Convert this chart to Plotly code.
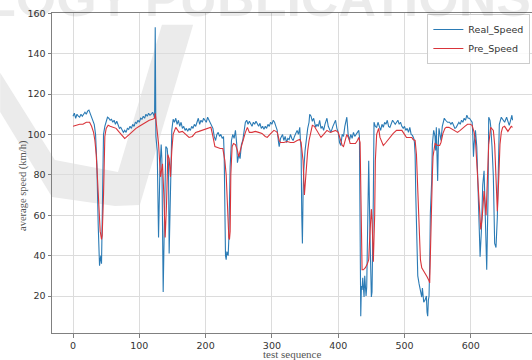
import plotly.graph_objects as go

# ---- data ----
real_x = [0, 2, 4, 6, 8, 10, 12, 14, 16, 18, 20, 22, 24, 26, 28, 30, 32, 34, 36, 38, 39, 40, 41, 42, 43, 44, 45, 46, 48,
          50, 52, 54, 56, 58, 60, 62, 64, 66, 68, 70, 72, 74, 76, 78, 80, 82, 84, 86, 88, 90, 92, 94, 96, 98, 100,
          102, 104, 106, 108, 110, 112, 114, 116, 118, 120, 122, 123, 124, 125, 127, 129, 131, 133, 134, 136, 138,
          140, 142, 144, 145, 147, 149, 151, 153, 155, 157, 159, 161, 163, 165, 167, 169, 171, 173, 175, 177, 179,
          181, 183, 185, 187, 189, 191, 193, 195, 197, 199, 201, 203, 205, 207, 209, 211, 213, 215, 217, 219, 221,
          223, 225, 227, 228, 229, 230, 231, 232, 234, 235, 237, 239, 241, 243, 245, 247, 248, 250, 252, 254, 256,
          258, 260, 262, 264, 266, 268, 270, 272, 274, 276, 278, 280, 282, 284, 286, 288, 290, 292, 294, 296, 298,
          300, 302, 304, 306, 308, 310, 311, 313, 316, 318, 320, 322, 324, 326, 328, 330, 332, 334, 336, 338, 340,
          342, 343, 344, 345, 346, 347, 348, 350, 352, 354, 356, 357, 359, 361, 363, 366, 368, 370, 372, 374, 376,
          378, 380, 382, 383, 385, 387, 389, 392, 394, 396, 398, 400, 402, 404, 406, 408, 410, 412, 413, 415, 417,
          419, 421, 423, 425, 427, 429, 431, 432, 433, 434, 435, 436, 437, 438, 439, 440, 441, 442, 443, 444, 446,
          448, 449, 450, 451, 452, 453, 454, 456, 458, 460, 462, 464, 466, 468, 470, 472, 474, 476, 478, 480, 482,
          484, 486, 488, 490, 492, 494, 496, 498, 500, 502, 504, 506, 508, 510, 512, 514, 515, 516, 517, 518, 519,
          520, 522, 524, 526, 527, 529, 531, 533, 534, 535, 536, 537, 538, 539, 541, 542, 544, 546, 547, 548, 549,
          550, 551, 552, 554, 555, 557, 560, 562, 565, 568, 570, 572, 574, 576, 578, 580, 582, 584, 586, 588, 590,
          592, 594, 596, 598, 600, 602, 603, 604, 605, 607, 609, 611, 613, 614, 616, 618, 620, 622, 624, 626, 627,
          629, 630, 632, 634, 636, 638, 640, 642, 643, 646, 649, 651, 654, 656, 658, 660, 662, 663]
real_y = [109, 110.5, 108, 110, 109, 108.5, 110, 109, 110, 111, 110, 111.5, 112, 110, 109, 107, 105, 100, 85, 55, 40,
          35, 38, 40, 36, 60, 90, 100, 104,
          107, 108.5, 108, 107, 107.5, 106, 107, 105, 106.5, 104.5, 103, 103.5, 102, 101, 102, 101, 103, 102.5, 104,
          103, 105, 104, 106, 105.5, 107, 106,
          108, 107.5, 109, 108, 110, 109, 110.5, 109.5, 110, 111, 109.5, 108, 153, 99, 92, 49, 82, 95, 88, 22, 60,
          94, 93, 85, 41, 70, 102, 107.5, 106, 108, 105, 107, 104, 106, 103, 104, 102, 103, 101.5, 103, 102, 104,
          103, 105, 104, 106, 108, 105, 107, 106, 108, 107, 106, 108.5, 107, 106, 104, 103, 99, 97, 100, 101, 99,
          100, 98, 99, 90, 50, 40, 38, 42, 40, 48, 84, 97, 100, 98, 102, 95, 86, 90, 88, 95, 97,
          103, 106, 107, 105, 106.5, 105, 104, 106, 105, 106.5, 105, 104, 105.5, 103, 104, 102.5, 104, 103, 105,
          104, 106,
          105, 107, 106, 104, 102, 96, 94, 98, 100, 97, 99, 96, 98, 97.5, 100, 98, 97, 99, 101, 102, 100,
          103.5, 97, 93, 60, 46, 70, 82, 92, 98, 103, 106, 110, 109, 106.5, 108, 103.5, 105, 104, 107, 103, 104,
          102, 105, 107, 108, 104, 102, 101, 104, 106, 107, 103, 101, 96, 94.5, 100, 99, 104, 108, 108.5, 100, 97,
          100, 98, 101, 99, 100, 101, 102, 99, 60, 10, 25, 23, 29, 20, 19.5, 30, 26, 20, 24.5, 52, 87,
          49, 30, 19.5, 22, 40, 69, 106, 104, 103.5, 106, 104, 102, 105, 103.5, 106, 105, 107, 104, 103.5, 105,
          107,
          106, 105, 106, 107, 105, 106, 104, 103, 104, 102, 103, 101, 103.5, 100, 99.5, 98, 96, 90, 70, 50, 39,
          30, 26, 22, 19.5, 24, 17, 18, 20, 12, 10, 18, 20, 35, 61, 77, 95, 102, 99, 92, 103.5, 90,
          77, 95, 103, 99, 97, 104, 108, 107, 106, 106, 105, 106, 104.5, 103, 103.5, 105, 106, 105, 107, 106, 108,
          107, 109.5, 108, 108, 107, 106, 100, 89, 95, 102, 94, 70, 47.5, 39.5, 52.5, 75, 82, 49, 33, 69, 108.5,
          107, 104, 94, 79, 46, 44, 59, 84, 105, 108.5, 107, 106, 108.5, 106, 104.5, 107, 109.5, 107]

pred_x = [0, 5, 10, 15, 20, 25, 28, 31, 33, 35, 37, 39, 41, 43, 44, 46, 47, 48, 50, 53, 56, 60, 65, 70, 75, 78, 80,
          85, 90, 95, 100, 105, 110, 115, 120, 123, 124, 126, 129, 132, 135, 137, 139, 141, 143, 145, 147, 149, 151,
          155, 160, 165, 170, 175, 180, 185, 190, 195, 200, 205, 208, 211, 214, 218, 222, 226, 229, 231, 233, 235,
          236, 237, 238, 240, 242, 245, 248, 250, 253, 256, 260, 263, 266, 270, 275, 280, 285, 290, 293, 297, 300,
          303, 306, 308, 311, 313, 318, 323, 328, 333, 338, 342, 344, 346, 347, 349, 350, 352, 354, 356, 359, 361,
          364, 368, 371, 374, 378, 383, 388, 392, 396, 400, 403, 406, 408, 411, 413, 416, 418, 422, 426, 429, 431,
          433, 434, 435, 436, 438, 441, 444, 446, 448, 450, 451, 452, 453, 455, 456, 458, 461, 463, 466, 468, 472,
          478, 483, 488, 492, 496, 500, 503, 507, 511, 513, 516, 518, 519, 521, 523, 524, 526, 528, 531, 534, 537,
          538, 539, 540, 542, 543, 546, 550, 553, 555, 558, 561, 563, 567, 570, 575, 580, 584, 587, 591, 595, 599,
          602, 605, 607, 610, 612, 615, 617, 620, 623, 625, 627, 630, 634, 636, 637, 639, 640, 642, 644, 646, 648,
          651, 654, 656, 659, 661, 663]
pred_y = [104, 104.5, 105, 105, 106, 106, 104, 101, 97, 90, 75, 60, 52, 48, 50, 70, 90, 99, 103, 104.5, 104, 103.5,
          103, 101, 99, 98, 98.5,
          100, 101.5, 103, 104, 105, 106, 107, 107.5, 108, 110.5, 104, 95.5, 79, 85.5, 70, 49, 65, 90, 88, 79, 92,
          100,
          103.5, 101, 101.5, 100, 98.5, 99, 101, 101.5, 102, 102.5, 103, 103.5, 99, 94, 93.5, 93, 93, 87, 80, 60,
          49,
          48, 52, 80, 94, 95.5, 95, 92, 89, 93, 97, 101, 103.5, 101, 101, 101.5, 101, 100.5, 99, 98.5, 100, 101,
          102, 101.5, 101, 97, 96, 96, 96.5, 96, 96, 97, 97.5, 96, 90, 87, 70, 75, 82, 92, 97, 102, 104.5,
          104, 102, 100, 98.5, 100, 102, 101, 101.5, 102, 101, 97, 94.5, 94, 97, 100, 98, 95.5, 95.5, 95.5, 97,
          98.5,
          96, 70, 45, 33, 33, 34, 36, 38, 52, 63, 58, 50, 37, 60, 87, 100, 103, 98.5, 96, 94.5, 96,
          98.5, 100.5, 102, 102, 102, 100, 98.5, 98.5, 98.5, 97.5, 97, 90, 80, 70, 50, 38, 34, 33, 31, 29.5, 27.5,
          26.5, 40, 61, 80, 89, 95.5, 94.5, 94.5, 96, 100.5, 103, 103.5, 103.5, 103, 102, 101, 102, 103, 104, 105,
          105,
          104.5, 101, 97, 82, 72, 53, 58, 72, 60, 75, 95, 103.5, 102, 95, 84, 66, 62, 77, 95, 101, 103.5,
          104, 102, 101.5, 103, 104, 103.5]

x_ticks = [0, 100, 200, 300, 400, 500, 600]
y_ticks = [20, 40, 60, 80, 100, 120, 140, 160]
series_names = ["Real_Speed", "Pre_Speed"]
x_title = "test sequence"
y_title = "average speed (km/h)"
watermark = "LOGY PUBLICATIONS"

fig = go.Figure()
fig.add_trace(go.Scatter(x=real_x, y=real_y, mode="lines", name=series_names[0],
                         line=dict(color="#2b7bb5", width=1.1)))
fig.add_trace(go.Scatter(x=pred_x, y=pred_y, mode="lines", name=series_names[1],
                         line=dict(color="#d9343a", width=1.1)))

# faint watermark (check mark + text) as in the scanned reference
fig.add_shape(type="path", xref="paper", yref="paper", layer="below",
              path=("M -0.108,0.813 L 0.006,0.541 L 0.1375,0.503 L 0.229,0.963 L 0.294,0.963 "
                    "L 0.183,0.40 L 0.131,0.397 L 0.0,0.425 L -0.108,0.691 Z"),
              fillcolor="#ebebeb", line=dict(width=0))
fig.add_annotation(text="<b>" + watermark + "</b>", xref="paper", yref="paper", x=-0.146, y=0.95,
                   xanchor="left", yanchor="bottom", showarrow=False,
                   font=dict(family="Liberation Sans", size=52, color="rgba(0,0,0,0.08)"))

# axis titles placed as text at the reference positions
fig.add_annotation(text=x_title, xref="paper", yref="paper", x=0.5, y=-0.066,
                   xanchor="center", yanchor="middle", showarrow=False,
                   font=dict(family="Liberation Serif", size=11, color="#555555"))
fig.add_annotation(text=y_title, xref="paper", yref="paper", x=-0.060, y=0.46,
                   xanchor="center", yanchor="middle", textangle=-90, showarrow=False,
                   font=dict(family="Liberation Serif", size=10.5, color="#555555"))

fig.update_layout(
    width=532, height=360,
    margin=dict(l=52, r=0, t=13, b=27, autoexpand=False),
    paper_bgcolor="white", plot_bgcolor="white",
    font=dict(family="DejaVu Sans", size=9.5, color="#333333"),
    showlegend=True,
    legend=dict(x=0.782, y=0.997, xanchor="left", yanchor="top",
                bgcolor="rgba(255,255,255,0.85)", bordercolor="#cccccc", borderwidth=1,
                font=dict(family="DejaVu Sans", size=9.5, color="#333333"),
                itemwidth=30, tracegroupgap=0),
    xaxis=dict(range=[-31.7, 692.3], tickmode="array", tickvals=x_ticks, automargin=False,
               showgrid=True, gridcolor="#dcdcdc", gridwidth=1, zeroline=False,
               showline=True, linecolor="#808080", linewidth=1, mirror=True,
               ticks="outside", ticklen=3.5, tickcolor="#808080"),
    yaxis=dict(range=[1.7, 160.1], tickmode="array", tickvals=y_ticks, automargin=False,
               showgrid=True, gridcolor="#dcdcdc", gridwidth=1, zeroline=False,
               showline=True, linecolor="#808080", linewidth=1, mirror=False,
               ticks="outside", ticklen=3.5, tickcolor="#808080"),
)

fig.write_html("out.html", config={"displayModeBar": False},
               post_script="document.body.style.margin='0';")
